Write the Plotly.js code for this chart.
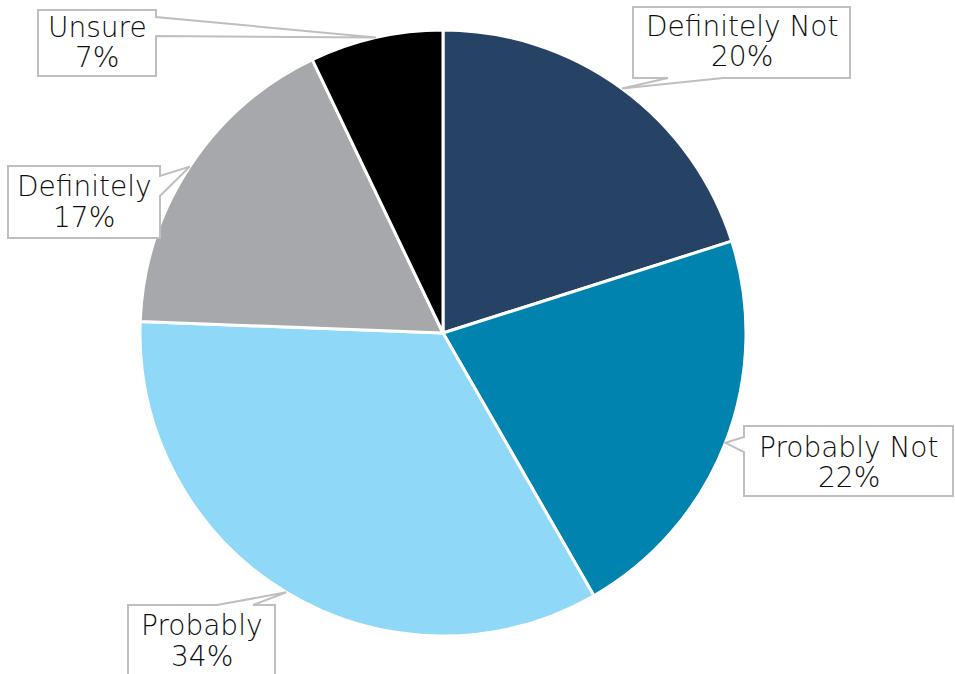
<!DOCTYPE html>
<html><head>
<script src="https://cdn.plot.ly/plotly-3.0.1.min.js"></script>
<style>body{margin:0;background:#fff}</style>
</head><body>
<div id="chart" style="width:955px;height:674px"></div>
<script>
const labels = ["Definitely Not", "Probably Not", "Probably", "Definitely", "Unsure"];
const values = [20.1, 21.6, 33.9, 17.3, 7.1];
const colors = ["#264366", "#0083ae", "#8fd8f8", "#a7a8ab", "#000000"];

// callout boxes (pixel layout): [x0, y0, x1, y1], side of pointer, pointer base [a, b], text line centres
const boxes = [
  {box: [633, 7, 850, 78], side: "bottom", base: [723, 668], lines: [26, 57]},
  {box: [744, 426, 953, 496], side: "left", base: [452, 437], lines: [447, 478]},
  {box: [128, 605, 275, 690], side: "top", base: [217, 253], lines: [625, 656]},
  {box: [8, 166, 160, 238], side: "right", base: [176, 196], lines: [187, 218]},
  {box: [38, 10, 156, 76], side: "right", base: [17, 36], lines: [28, 58]}
];

const W = 955, H = 674;
const cx = 443, cy = 333, R = 303;
const px = x => x / W, py = y => 1 - y / H;
const font = {family: "DejaVu Sans, sans-serif", size: 28, weight: 200, color: "#0d0d0d"};

const total = values.reduce((a, b) => a + b, 0);
let cum = 0;
const shapes = [], annotations = [];
values.forEach((v, i) => {
  const th = 2 * Math.PI * (cum + v / 2) / total;
  cum += v;
  const tx = cx + R * Math.sin(th), ty = cy - R * Math.cos(th);
  const b = boxes[i];
  const [x0, y0, x1, y1] = b.box;
  const pts = [];
  pts.push([x0, y0]);
  if (b.side === "top") { pts.push([b.base[0], y0], [tx, ty], [b.base[1], y0]); }
  pts.push([x1, y0]);
  if (b.side === "right") { pts.push([x1, b.base[0]], [tx, ty], [x1, b.base[1]]); }
  pts.push([x1, y1]);
  if (b.side === "bottom") { pts.push([b.base[0], y1], [tx, ty], [b.base[1], y1]); }
  pts.push([x0, y1]);
  if (b.side === "left") { pts.push([x0, b.base[0]], [tx, ty], [x0, b.base[1]]); }
  const path = "M" + pts.map(p => px(p[0]).toFixed(5) + "," + py(p[1]).toFixed(5)).join("L") + "Z";
  shapes.push({type: "path", xref: "paper", yref: "paper", path: path,
    fillcolor: "#ffffff", line: {color: "#bfbfbf", width: 2}, layer: "above"});
  const xc = px((x0 + x1) / 2);
  annotations.push({xref: "paper", yref: "paper", x: xc, y: py(b.lines[0]),
    xanchor: "center", yanchor: "middle", showarrow: false, text: labels[i], font: font});
  annotations.push({xref: "paper", yref: "paper", x: xc, y: py(b.lines[1]),
    xanchor: "center", yanchor: "middle", showarrow: false,
    text: Math.round(v / total * 100) + "%", font: font});
});

const data = [{
  type: "pie", labels: labels, values: values, sort: false, direction: "clockwise",
  rotation: 0, textinfo: "none", hoverinfo: "label+percent",
  marker: {colors: colors, line: {color: "#ffffff", width: 3}},
  domain: {x: [140 / W, 746 / W], y: [1 - 636 / H, 1 - 30 / H]}
}];

const layout = {
  width: W, height: H, margin: {l: 0, r: 0, t: 0, b: 0},
  showlegend: false, paper_bgcolor: "#ffffff",
  shapes: shapes, annotations: annotations
};
Plotly.newPlot("chart", data, layout, {displayModeBar: false, staticPlot: true});
</script>
</body></html>
